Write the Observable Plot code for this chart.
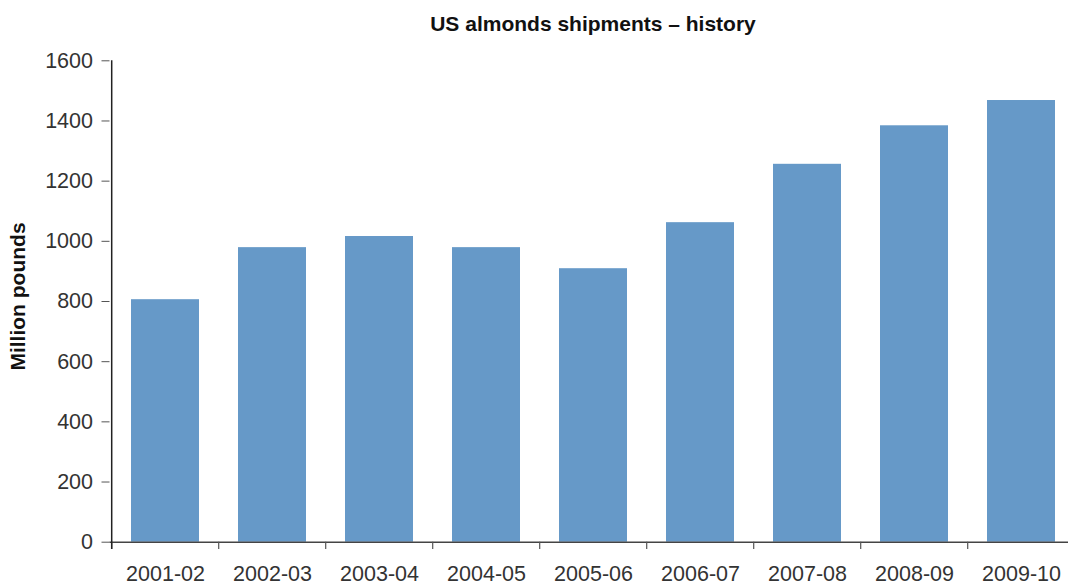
<!DOCTYPE html>
<html>
<head>
<meta charset="utf-8">
<script src="https://cdn.jsdelivr.net/npm/d3@7"></script>
<script src="https://cdn.jsdelivr.net/npm/@observablehq/plot@0.6"></script>
<style>
  html, body { margin: 0; padding: 0; background: #fff; overflow: hidden; }
  body { font-family: "Liberation Sans", Arial, sans-serif; width: 1068px; }
  #title {
    height: 40px; line-height: 40px; position: relative; top: 4px;
    box-sizing: border-box; padding-left: 118px; text-align: center;
    font-size: 21px; font-weight: bold; color: #111;
  }
  #chart svg { display: block; }
</style>
</head>
<body>
<div id="title">US almonds shipments – history</div>
<div id="chart"></div>
<script>
// Marketing seasons and shipments (million pounds)
const seasons = ["2001-02", "2002-03", "2003-04", "2004-05", "2005-06", "2006-07", "2007-08", "2008-09", "2009-10"];
const shipments = [806, 979, 1016, 979, 909, 1062, 1256, 1384, 1468];
const yTicks = [0, 200, 400, 600, 800, 1000, 1200, 1400, 1600];
const yLabel = "Million pounds";

const data = seasons.map((season, i) => ({season, value: shipments[i]}));

const width = 1068, height = 546;
const marginLeft = 109.5, marginTop = 20.3, marginBottom = 44.3;
const xRange = [marginLeft, 1077.9];
const step = (xRange[1] - xRange[0]) / seasons.length;

const chart = Plot.plot({
  width, height,
  marginLeft, marginTop, marginBottom, marginRight: 0,
  style: {fontFamily: "'Liberation Sans', Arial, sans-serif", fontSize: "21px", color: "#333", background: "#fff"},
  x: {type: "band", domain: seasons, range: xRange, paddingInner: 0.36, paddingOuter: 0.18, align: 0.5, label: null},
  y: {domain: [0, 1600], label: null},
  marks: [
    Plot.barY(data, {x: "season", y: "value", fill: "#6699c8"}),
    // baseline
    Plot.ruleY([0], {stroke: "#444", strokeWidth: 1.5}),
    // category boundary ticks below the baseline
    Plot.ruleX(seasons, {x: d => d, dx: -step / 2, y1: 0, y2: -24, stroke: "#555", strokeWidth: 1.2}),
    // vertical axis line
    Plot.ruleX([seasons[0]], {x: d => d, dx: -step / 2, y1: -24, y2: 1600, stroke: "#222", strokeWidth: 1.5}),
    Plot.axisY({ticks: yTicks, tickSize: 8, tickPadding: 9, tickFormat: d => String(d), label: null, stroke: "#555", fontSize: 21.5}),
    Plot.axisX({tickSize: 0, tickPadding: 24, label: null, fontSize: 21.5}),
    Plot.text([yLabel], {text: d => d, frameAnchor: "left", textAnchor: "middle", rotate: -90, dx: -92, dy: -5,
      fontWeight: "bold", fontSize: 21, fill: "#111"})
  ]
});
document.getElementById("chart").appendChild(chart);
</script>
</body>
</html>
